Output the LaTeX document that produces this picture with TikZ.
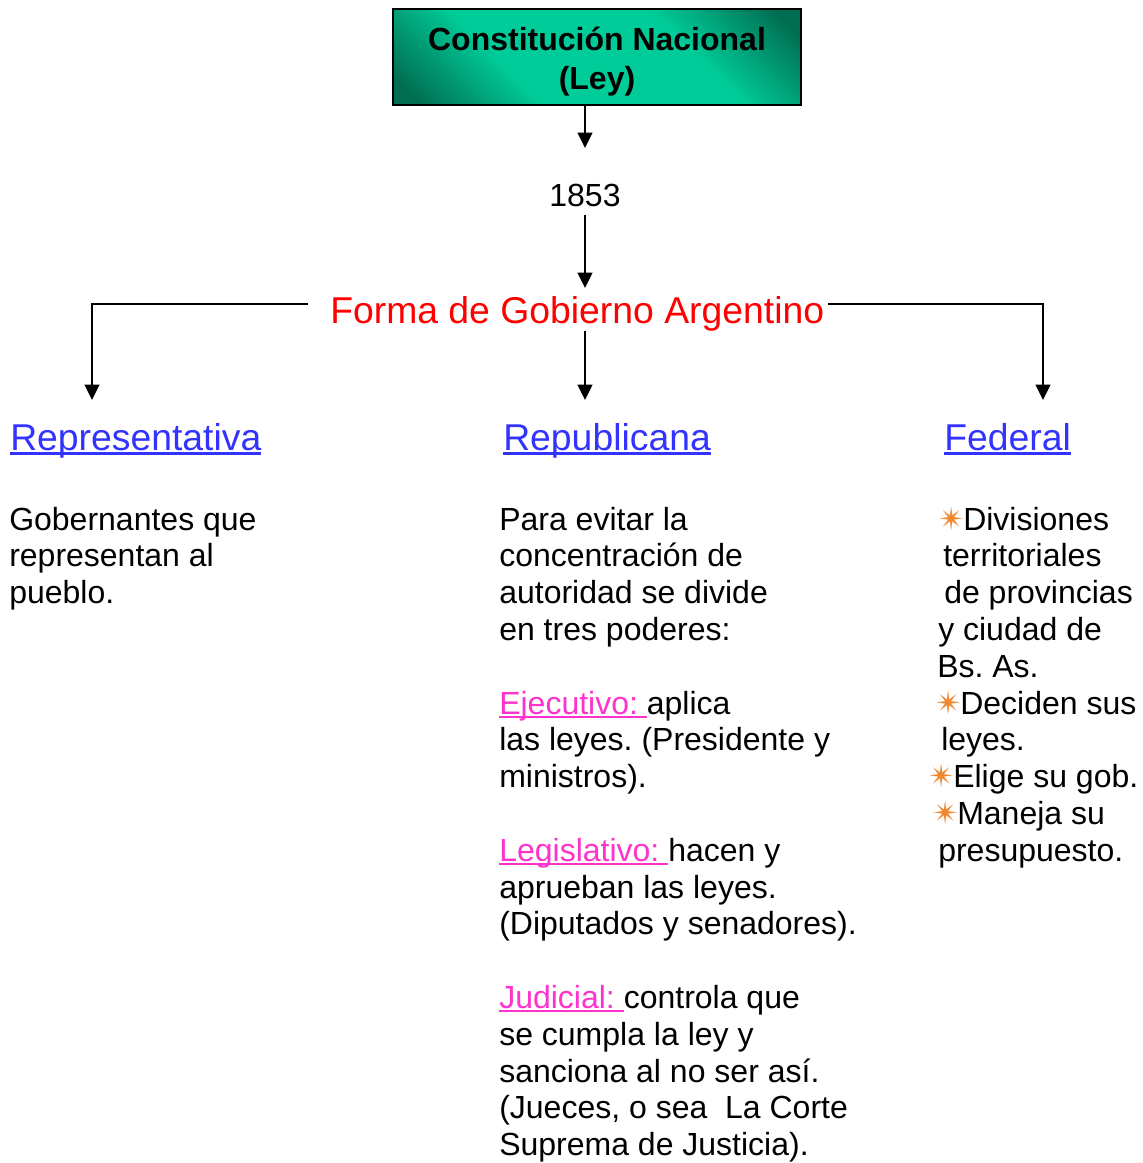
\documentclass[tikz,border=0pt]{standalone}
\usepackage{fontspec}
\setmainfont{Liberation Sans}
\newfontfamily\simbolos{DejaVu Sans}
\usetikzlibrary{arrows.meta}
\frenchspacing

\definecolor{cnclaro}{RGB}{0,204,153}
\definecolor{cnoscuro}{RGB}{0,108,80}
\definecolor{azul}{RGB}{51,51,255}
\definecolor{rosa}{RGB}{255,51,204}
\definecolor{naranja}{RGB}{240,136,48}

\pgfdeclarehorizontalshading{cnfondo}{100bp}{color(0bp)=(cnoscuro); color(18bp)=(cnoscuro); color(36bp)=(cnclaro); color(64bp)=(cnclaro); color(82bp)=(cnoscuro); color(100bp)=(cnoscuro)}

% subrayado: profundidad, grosor, texto
\newcommand{\subrayar}[3]{\setbox0\hbox{#3}\leavevmode\rlap{\rule[-#1]{\wd0}{#2}}\box0}
\newcommand{\estrella}{\makebox[18.75pt][l]{\simbolos\fontsize{24}{24}\selectfont\textcolor{naranja}{✴}}}
\newcommand{\poder}[1]{\textcolor{rosa}{\subrayar{3pt}{1.5pt}{#1\ }}}

\begin{document}
\begin{tikzpicture}[x=0.75pt, y=-0.75pt,
	flecha/.style={line width=1.5pt, -{Triangle[length=11.5pt,width=11pt]}},
	texto/.style={inner sep=0pt, anchor=base west, align=left, font=\fontsize{24}{27.6}\selectfont},
	encabezado/.style={inner sep=0pt, anchor=base west, text=azul, font=\fontsize{28}{33}\selectfont}]
	\useasboundingbox (0,0) rectangle (1142,1163);

	\node[draw, line width=1.5pt, shade, shading=cnfondo, shading angle=45, minimum width=306pt, minimum height=72pt, inner sep=0pt, align=center, font=\bfseries\fontsize{24}{29.25}\selectfont] (cn) at (597,57) {\rule{0pt}{24pt}Constitución Nacional\\(Ley)};
	\node[inner sep=0pt, anchor=base, font=\fontsize{24}{27.6}\selectfont] (anio) at (585,206) {1853};
	\node[inner sep=0pt, anchor=base west, text=red, font=\fontsize{28}{33}\selectfont] (forma) at (330,323) {Forma de Gobierno Argentino};

	\coordinate (finanio) at (585,148);
	\coordinate (finforma) at (585,288);
	\coordinate (fizq) at (308,304);
	\coordinate (fder) at (828,304);
	\coordinate (repin) at (92,400);
	\coordinate (repubin) at (585,400);
	\coordinate (fedin) at (1043,400);

	\draw[flecha] (cn.south -| finanio) -- (finanio);
	\draw[flecha, shorten <=6pt] (anio.south) -- (finforma);
	\draw[flecha] (fizq) -| (repin);
	\draw[flecha] (anio.south |- forma.south) -- (repubin);
	\draw[flecha] (fder) -| (fedin);

	\node[encabezado] (rep) at (10,450) {\subrayar{3.75pt}{2.2pt}{Representativa}};
	\node[encabezado] (repub) at (503,450) {\subrayar{3.75pt}{2.2pt}{Republicana}};
	\node[encabezado] (fed) at (944,450) {\subrayar{3.75pt}{2.2pt}{Federal}};

	% base = ultima linea
	\node[texto] (txtrep) at (9,603.6) {Gobernantes que\\representan al\\pueblo.};
	\node[texto] (txtrepub) at (499,1155.6) {Para evitar la\\concentración de\\autoridad se divide\\en tres poderes:\\[27.6pt]
		\poder{Ejecutivo:}aplica\\las leyes. (Presidente y\\ministros).\\[27.6pt]
		\poder{Legislativo:}hacen y\\aprueban las leyes.\\(Diputados y senadores).\\[27.6pt]
		\poder{Judicial:}controla que\\se cumpla la ley y\\sanciona al no ser así.\\(Jueces, o sea\ \ La Corte\\Suprema de Justicia).};
	\node[texto] (txtfed) at (928,861.2) {\hspace*{7.5pt}\estrella Divisiones\\\hspace*{11.25pt}territoriales\\\hspace*{12pt}de provincias\\\hspace*{7.5pt}y ciudad de\\\hspace*{6.75pt}Bs. As.\\
		\hspace*{5.25pt}\estrella Deciden sus\\\hspace*{9.75pt}leyes.\\\estrella Elige su gob.\\\hspace*{3pt}\estrella Maneja su\\\hspace*{7.5pt}presupuesto.};
\end{tikzpicture}
\end{document}
